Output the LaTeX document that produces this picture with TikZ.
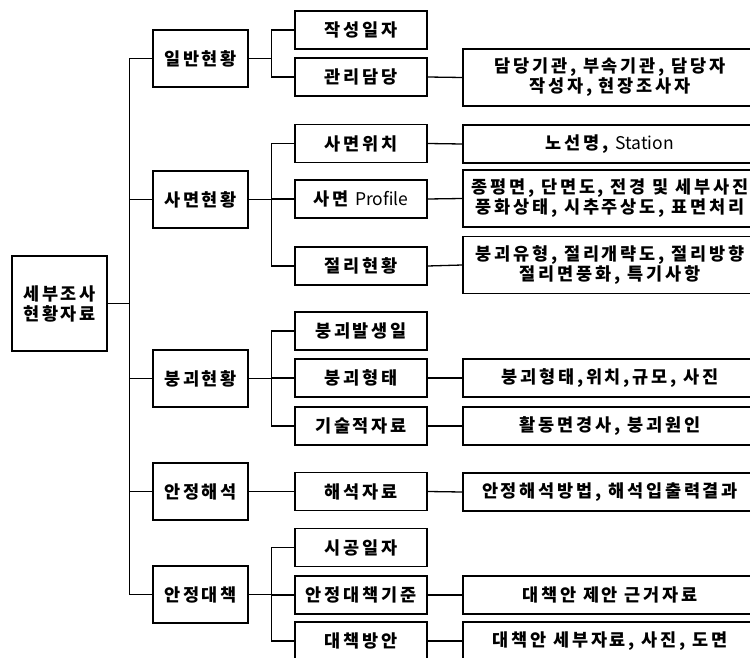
\documentclass[tikz,border=0pt]{standalone}
\usepackage{fontspec}
\setmainfont[LetterSpace=16]{Noto Sans CJK KR}
\newfontfamily\latn{Noto Sans CJK KR}

\begin{document}
\begin{tikzpicture}[x=1pt,y=-1pt,line width=1.3pt,
    box/.style={draw,inner sep=0pt,align=center,font=\fontsize{17.5}{20}\selectfont\bfseries},
    rootbox/.style={box,minimum width=95,minimum height=95},
    mainbox/.style={box,minimum width=95,minimum height=57},
    itembox/.style={box,minimum width=132,minimum height=38},
    infobox/.style={box,minimum width=294,minimum height=38},
    infotwo/.style={infobox,minimum height=57}]
    \useasboundingbox (0,0) rectangle (750,658);
    \clip (0,0) rectangle (750,658);
    % root and first level
    \node[rootbox] (root) at (59.5,303.5) {세부조사\\현황자료};
    \node[mainbox] (gen) at (200.5,58.5) {일반현황};
    \node[mainbox] (slp) at (200.5,199.5) {사면현황};
    \node[mainbox] (col) at (200.5,378.5) {붕괴현황};
    \node[mainbox] (ana) at (200.5,491.5) {안정해석};
    \node[mainbox] (cnt) at (200.5,594.5) {안정대책};
    % second level
    \node[itembox] (date) at (361,30) {작성일자};
    \node[itembox] (mgmt) at (361,77) {관리담당};
    \node[itembox] (loc) at (361,143.5) {사면위치};
    \node[itembox] (prof) at (361,199) {사면 {\latn\mdseries Profile}};
    \node[itembox] (jnt) at (361,266) {절리현황};
    \node[itembox] (occ) at (361,331) {붕괴발생일};
    \node[itembox] (shp) at (361,378) {붕괴형태};
    \node[itembox] (tech) at (361,426) {기술적자료};
    \node[itembox] (res) at (361,491.5) {해석자료};
    \node[itembox] (cons) at (361,547.5) {시공일자};
    \node[itembox] (crit) at (361,595) {안정대책기준};
    \node[itembox] (plan) at (361,641) {대책방안};
    % third level
    \node[infotwo] (mgmtx) at (610,77.5) {담당기관, 부속기관, 담당자\\작성자, 현장조사자};
    \node[infobox] (locx) at (610,144) {노선명, {\latn\mdseries Station}};
    \node[infotwo] (profx) at (610,198.5) {종평면, 단면도, 전경 및 세부사진\\풍화상태, 시추주상도, 표면처리};
    \node[infotwo] (jntx) at (610,265) {붕괴유형, 절리개략도, 절리방향\\절리면풍화, 특기사항};
    \node[infobox] (shpx) at (610,378) {붕괴형태,위치,규모, 사진};
    \node[infobox] (techx) at (610,426) {활동면경사, 붕괴원인};
    \node[infobox] (resx) at (610,492) {안정해석방법, 해석입출력결과};
    \node[infobox] (critx) at (610,595) {대책안 제안 근거자료};
    \node[infobox] (planx) at (610,641) {대책안 세부자료, 사진, 도면};
    % connectors
    \foreach \c in {gen,slp,col,ana,cnt}
      \draw (\c.west) -- ++(-23,0) |- (root.east);
    \foreach \c/\p in {date/gen,mgmt/gen,loc/slp,prof/slp,jnt/slp,occ/col,shp/col,tech/col,res/ana,cons/cnt,crit/cnt,plan/cnt}
      \draw (\c.west) -- ++(-23,0) |- (\p.east);
    \foreach \a in {mgmt,loc,prof,jnt,shp,tech,res,crit,plan}
      \draw (\a.east) -- (\a x.west);
\end{tikzpicture}
\end{document}
